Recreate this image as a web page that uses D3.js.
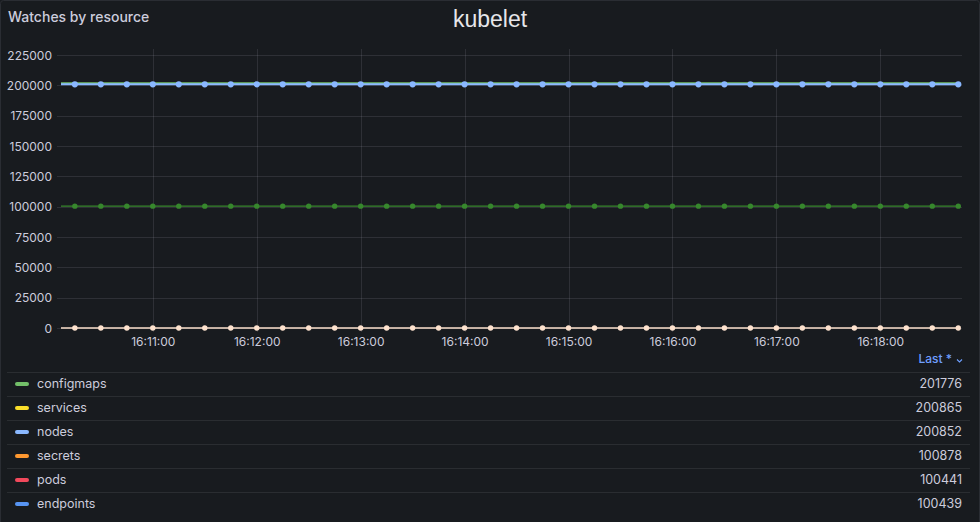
<!DOCTYPE html>
<html>
<head>
<meta charset="utf-8">
<script src="https://cdn.jsdelivr.net/npm/d3@7"></script>
<style>
html,body{margin:0;padding:0;background:#181b1f;}
svg{display:block;font-family:Inter,"Noto Sans",sans-serif;}
</style>
</head>
<body>
<svg id="chart" width="980" height="522"></svg>
<script>
// ---- data ----
const times = ["16:10:00","16:10:15","16:10:30","16:10:45","16:11:00","16:11:15","16:11:30","16:11:45",
"16:12:00","16:12:15","16:12:30","16:12:45","16:13:00","16:13:15","16:13:30","16:13:45",
"16:14:00","16:14:15","16:14:30","16:14:45","16:15:00","16:15:15","16:15:30","16:15:45",
"16:16:00","16:16:15","16:16:30","16:16:45","16:17:00","16:17:15","16:17:30","16:17:45",
"16:18:00","16:18:15","16:18:30","16:18:45"];
const configmapsValues = [201776,201776,201776,201776,201776,201776,201776,201776,201776,201776,201776,201776,
201776,201776,201776,201776,201776,201776,201776,201776,201776,201776,201776,201776,
201776,201776,201776,201776,201776,201776,201776,201776,201776,201776,201776,201776];
const nodesValues = [200852,200852,200852,200852,200852,200852,200852,200852,200852,200852,200852,200852,
200852,200852,200852,200852,200852,200852,200852,200852,200852,200852,200852,200852,
200852,200852,200852,200852,200852,200852,200852,200852,200852,200852,200852,200852];
const midValues = [100439,100439,100439,100439,100439,100439,100439,100439,100439,100439,100439,100439,
100439,100439,100439,100439,100439,100439,100439,100439,100439,100439,100439,100439,
100439,100439,100439,100439,100439,100439,100439,100439,100439,100439,100439,100439];
const lowValues = [0,0,0,0,0,0,0,0,0,0,0,0,0,0,0,0,0,0,0,0,0,0,0,0,0,0,0,0,0,0,0,0,0,0,0,0];
const yTicks = [0,25000,50000,75000,100000,125000,150000,175000,200000,225000];
const xTickLabels = ["16:11:00","16:12:00","16:13:00","16:14:00","16:15:00","16:16:00","16:17:00","16:18:00"];
const xDomain = ["16:10:07","16:18:46"];
const legendNames = ["configmaps","services","nodes","secrets","pods","endpoints"];
const legendColors = ["#73BF69","#FADE2A","#8AB8FF","#FF9830","#F2495C","#5794F2"];
const legendLast = [201776,200865,200852,100878,100441,100439];

// ---- setup ----
const svg = d3.select("#chart");
const W = 980, H = 522;
const parse = d3.timeParse("%H:%M:%S");
const pLeft = 61, pRight = 960, pTop = 55, pBottom = 328;

svg.append("rect").attr("x",0.5).attr("y",0.5).attr("width",W-1).attr("height",H+4)
  .attr("rx",3).attr("fill","#181b1f").attr("stroke","#2a2d33");

svg.append("text").attr("x",8).attr("y",22).attr("fill","#ccccdc")
  .attr("font-size",14).attr("font-weight",500).text("Watches by resource");
svg.append("text").attr("x",490).attr("y",27).attr("fill","#e6e6ea")
  .attr("text-anchor","middle").attr("font-family","'Liberation Sans',Arial,sans-serif")
  .attr("font-size",23).text("kubelet");

const x = d3.scaleTime().domain(xDomain.map(parse)).range([pLeft, pRight]);
const y = d3.scaleLinear().domain([0,225000]).range([pBottom, pTop]);

// grid
const grid = svg.append("g");
grid.selectAll("line.h").data(yTicks).enter().append("line")
  .attr("x1",57).attr("x2",962)
  .attr("y1",d=>Math.round(y(d))+0.5).attr("y2",d=>Math.round(y(d))+0.5)
  .attr("stroke","rgba(204,204,220,0.12)");
grid.selectAll("line.v").data(xTickLabels).enter().append("line")
  .attr("x1",d=>Math.round(x(parse(d)))+0.5).attr("x2",d=>Math.round(x(parse(d)))+0.5)
  .attr("y1",49).attr("y2",332)
  .attr("stroke","rgba(204,204,220,0.12)");

// axes labels via d3 axes
const yAxis = d3.axisLeft(y).tickValues(yTicks).tickSize(0).tickPadding(0).tickFormat(d3.format("d"));
const gy = svg.append("g").attr("transform","translate(52,0)").call(yAxis);
gy.select(".domain").remove();
gy.selectAll("text").attr("fill","#ccccdc").attr("font-size",12).attr("font-family","Inter,sans-serif").attr("dy","0.35em");

const xAxis = d3.axisBottom(x).tickValues(xTickLabels.map(parse)).tickSize(0).tickPadding(0)
  .tickFormat(d3.timeFormat("%H:%M:%S"));
const gx = svg.append("g").attr("transform","translate(0,337)").call(xAxis);
gx.select(".domain").remove();
gx.selectAll("text").attr("fill","#ccccdc").attr("font-size",12).attr("font-family","Inter,sans-serif").attr("dy","0.71em");

// clip
svg.append("clipPath").attr("id","clip").append("rect")
  .attr("x",pLeft).attr("y",pTop-10).attr("width",pRight-pLeft+4).attr("height",pBottom-pTop+16);
const plot = svg.append("g").attr("clip-path","url(#clip)");

const pts = times.map(parse);
const line = d3.line().x((d,i)=>x(pts[i])).y(d=>y(d));

function drawSeries(vals, color, width, r, dots){
  plot.append("path").datum(vals).attr("d",line).attr("fill","none")
    .attr("stroke",color).attr("stroke-width",width);
  if(dots){
    plot.selectAll(null).data(vals.map((v,i)=>({v,t:pts[i]})).filter(d=>d.t>=x.domain()[0]))
      .enter().append("circle")
      .attr("cx",d=>x(d.t)).attr("cy",d=>y(d.v)).attr("r",r).attr("fill",color);
  }
}
drawSeries(lowValues, "#FDE2CE", 1.3, 2.7, true);
drawSeries(midValues, "#37872D", 1.3, 2.7, true);
drawSeries(configmapsValues, "#73BF69", 2, 0, false);
drawSeries(nodesValues, "#8AB8FF", 2, 3.1, true);

// legend
svg.append("text").attr("x",952).attr("y",363).attr("text-anchor","end")
  .attr("fill","#6E9FFF").attr("font-size",12).attr("font-weight",500).text("Last *");
svg.append("path").attr("d","M957,359.5 l2.5,2.5 l2.5,-2.5").attr("fill","none")
  .attr("stroke","#6E9FFF").attr("stroke-width",1.1);

const rowY = d3.scaleLinear().domain([0,1]).range([384,408]);
const rows = svg.append("g").selectAll("g").data(legendNames).enter().append("g")
  .attr("transform",(d,i)=>`translate(0,${rowY(i)})`);
rows.append("line").attr("x1",7).attr("x2",970).attr("y1",-11.5).attr("y2",-11.5)
  .attr("stroke","rgba(204,204,220,0.10)");
rows.append("line").attr("x1",17).attr("x2",27).attr("y1",0).attr("y2",0)
  .attr("stroke",(d,i)=>legendColors[i]).attr("stroke-width",4).attr("stroke-linecap","round");
rows.append("text").attr("x",37).attr("y",0).attr("dy","0.35em").attr("fill","#ccccdc")
  .attr("font-size",12.5).text(d=>d);
rows.append("text").attr("x",962).attr("y",0).attr("dy","0.35em").attr("text-anchor","end")
  .attr("fill","#ccccdc").attr("font-size",12.5).text((d,i)=>legendLast[i]);
</script>
</body>
</html>
